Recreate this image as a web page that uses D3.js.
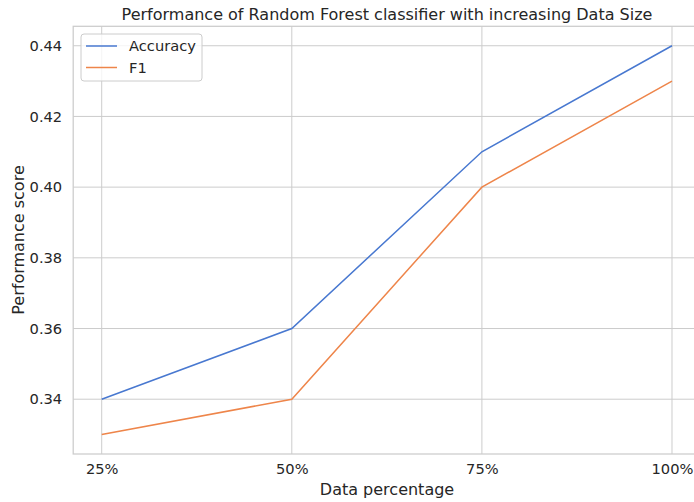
<!DOCTYPE html>
<html><head><meta charset="utf-8">
<script src="https://cdn.jsdelivr.net/npm/d3@7"></script>
<style>body{margin:0;background:#fff}svg{display:block}text{font-family:"DejaVu Sans",sans-serif;fill:#262626}</style>
</head><body><svg id="c" width="694" height="502"></svg>
<script>
const categories = ["25%", "50%", "75%", "100%"];
const accuracy = [0.34, 0.36, 0.41, 0.44];
const f1 = [0.33, 0.34, 0.40, 0.43];
const yTicks = [0.34, 0.36, 0.38, 0.40, 0.42, 0.44];
const seriesNames = ["Accuracy", "F1"];
const colors = ["#4878d0", "#ee854a"];

const svg = d3.select("#c");
const L = 73.2, R = 700.5, T = 26.3, B = 454;
const x = d3.scaleLinear().domain([-0.15, 3.15]).range([L, R]);
const y = d3.scaleLinear().domain([0.3245, 0.4455]).range([B, T]);

// grid
const g = svg.append("g");
g.selectAll(".gx").data(categories).join("line")
  .attr("x1", (d,i)=>x(i)).attr("x2", (d,i)=>x(i)).attr("y1", T).attr("y2", B)
  .attr("stroke", "#cccccc").attr("stroke-width", 1);
g.selectAll(".gy").data(yTicks).join("line")
  .attr("x1", L).attr("x2", R).attr("y1", d=>y(d)).attr("y2", d=>y(d))
  .attr("stroke", "#cccccc").attr("stroke-width", 1);
// spines
svg.append("rect").attr("x", L).attr("y", T).attr("width", R-L).attr("height", B-T)
  .attr("fill", "none").attr("stroke", "#cccccc").attr("stroke-width", 1.25);

// axes text
const xa = svg.append("g").attr("transform", `translate(0,${B})`)
  .call(d3.axisBottom(x).tickValues([0,1,2,3]).tickFormat(i=>categories[i]).tickSize(0).tickPadding(10));
xa.select(".domain").remove();
xa.selectAll("text").style("font-size", "14.67px").attr("fill", "#262626");
const ya = svg.append("g").attr("transform", `translate(${L},0)`)
  .call(d3.axisLeft(y).tickValues(yTicks).tickFormat(d3.format(".2f")).tickSize(0).tickPadding(11));
ya.select(".domain").remove();
ya.selectAll("text").style("font-size", "14.67px").attr("fill", "#262626");

// lines
const line = d3.line().x((d,i)=>x(i)).y(d=>y(d));
[accuracy, f1].forEach((s, k) => {
  svg.append("path").datum(s).attr("d", line).attr("fill", "none")
    .attr("stroke", colors[k]).attr("stroke-width", 1.5);
});

// labels
svg.append("text").attr("x", 387).attr("y", 20).attr("text-anchor", "middle")
  .style("font-size", "16px").text("Performance of Random Forest classifier with increasing Data Size");
svg.append("text").attr("x", 387).attr("y", 495).attr("text-anchor", "middle")
  .style("font-size", "16px").text("Data percentage");
svg.append("text").attr("transform", "translate(24,240) rotate(-90)").attr("text-anchor", "middle")
  .style("font-size", "16px").text("Performance score");

// legend
const lg = svg.append("g");
lg.append("rect").attr("x", 81).attr("y", 34).attr("width", 121).attr("height", 47).attr("rx", 3)
  .attr("fill", "#fff").attr("fill-opacity", 0.8).attr("stroke", "#cccccc").attr("stroke-width", 1);
seriesNames.forEach((n, k) => {
  const yy = 46 + k*21.5;
  lg.append("line").attr("x1", 86).attr("x2", 117).attr("y1", yy).attr("y2", yy)
    .attr("stroke", colors[k]).attr("stroke-width", 1.5);
  lg.append("text").attr("x", 129).attr("y", yy + 5).style("font-size", "14.67px").text(n);
});
</script></body></html>
